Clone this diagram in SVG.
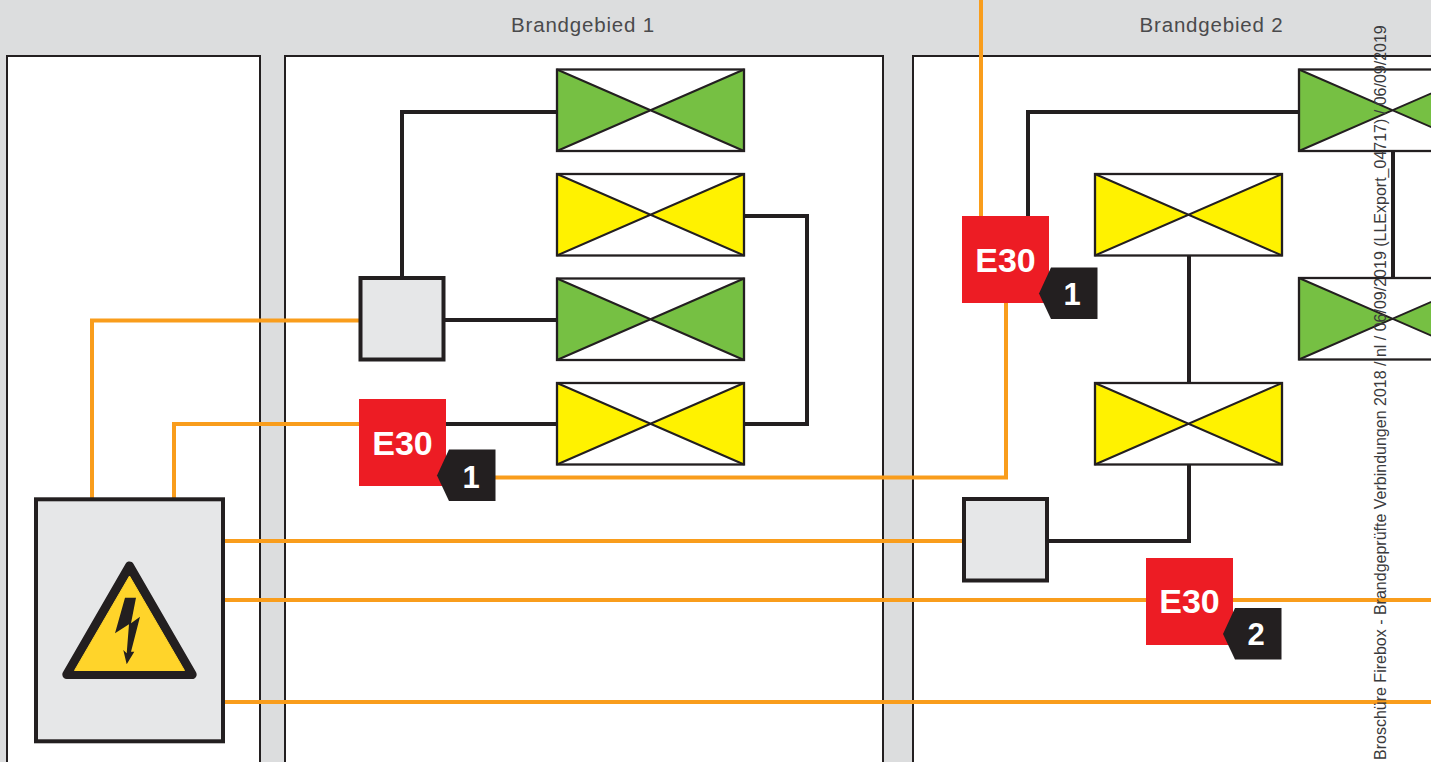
<svg xmlns="http://www.w3.org/2000/svg" width="1431" height="762" viewBox="0 0 1431 762">
<style>
.zone{fill:#fff;stroke:#231f20;stroke-width:2}
.hdr{font:20.5px "Liberation Sans",Arial,sans-serif;fill:#4a4a4c;text-anchor:middle;letter-spacing:.8px}
.o{fill:none;stroke:#f99d1c;stroke-width:4}
.k{fill:none;stroke:#231f20;stroke-width:4}
.box{fill:#e6e7e8;stroke:#231f20;stroke-width:4}
.dw{fill:#fff}
.x{fill:none;stroke:#231f20;stroke-width:2}
.g{fill:#76c043}
.y{fill:#fff200}
.red{fill:#ed1c24}
.e{font:bold 34px "Liberation Sans",Arial,sans-serif;fill:#fff;text-anchor:middle}
.tag{fill:#231f20}
.n{font:bold 31px "Liberation Sans",Arial,sans-serif;fill:#fff;text-anchor:middle}
.side{font:16px "Liberation Sans",Arial,sans-serif;fill:#3a3a3c}
</style>
<defs>
<g id="dg"><rect class="dw" x="0" y="0" width="187" height="81.5"/><path class="g" d="M0 0L94 41 0 81.500ZM187 0L94 41 187 81.500Z"/><path class="x" d="M0 0L187 81.500M0 81.500L187 0"/><rect x="0" y="0" width="187" height="81.5" fill="none" stroke="#231f20" stroke-width="2.3"/></g>
<g id="dy"><rect class="dw" x="0" y="0" width="187" height="81.5"/><path class="y" d="M0 0L94 41 0 81.500ZM187 0L94 41 187 81.500Z"/><path class="x" d="M0 0L187 81.500M0 81.500L187 0"/><rect x="0" y="0" width="187" height="81.5" fill="none" stroke="#231f20" stroke-width="2.3"/></g>
</defs>
<rect id="background" width="1431" height="762" fill="#dcddde"/>
<g id="zones">
<rect class="zone" x="7" y="56" width="253" height="720"/>
<rect class="zone" x="285" y="56" width="598" height="720"/>
<rect class="zone" x="913" y="56" width="530" height="720"/>
<text class="hdr" x="583" y="32">Brandgebied 1</text>
<text class="hdr" x="1211.500" y="32">Brandgebied 2</text>
</g>
<g id="connectors">
<path class="k" d="M402 278V112H557"/>
<path class="k" d="M444 320H557"/>
<path class="k" d="M744 216H807V424H744"/>
<path class="k" d="M445 424H557"/>
<path class="k" d="M1028 217V112H1299"/>
<path class="k" d="M1189 255V383"/>
<path class="k" d="M1393 151V278"/>
<path class="k" d="M1189 465V541H1047"/>
<path class="o" d="M92 499V320.500H360"/>
<path class="o" d="M174 499V424H360"/>
<path class="o" d="M981 0V217"/>
<path class="o" d="M495 477.500H1006V302"/>
<path class="o" d="M224 541H964"/>
<path class="o" d="M224 600H1147M1232 600H1431"/>
<path class="o" d="M224 702H1431"/>
</g>
<g id="damper-g1"><use href="#dg" x="557" y="69.500"/></g>
<g id="damper-y1"><use href="#dy" x="557" y="174"/></g>
<g id="damper-g2"><use href="#dg" x="557" y="278.500"/></g>
<g id="damper-y2"><use href="#dy" x="557" y="383"/></g>
<g id="damper-g3"><use href="#dg" x="1299" y="69.500"/></g>
<g id="damper-y3"><use href="#dy" x="1095" y="174"/></g>
<g id="damper-g4"><use href="#dg" x="1299" y="278"/></g>
<g id="damper-y4"><use href="#dy" x="1095" y="383"/></g>
<g id="box-1"><rect class="box" x="360.500" y="278" width="83" height="81.500"/></g>
<g id="box-2"><rect class="box" x="964" y="499" width="83" height="81.500"/></g>
<g id="panel">
<rect class="box" x="36" y="499.300" width="187" height="242"/>
<path d="M129.500 565.900L192.200 674.500H66.800Z" fill="#231f20" stroke="#231f20" stroke-width="9" stroke-linejoin="round"/>
<path d="M129.500 576L184.500 670.500H74.500Z" fill="#ffd42a" stroke="#ffd42a" stroke-width="1" stroke-linejoin="round"/>
<path d="M125 597.700H136L131 623.300 140 616.700 131 651.700 134.300 651.700 126.700 664.300 123.300 650 126.700 653.300 129 624.300 115 633.300Z" fill="#231f20"/>
</g>
<g id="e30-1">
<rect class="red" x="359" y="399" width="87" height="87"/>
<path class="tag" d="M449 449.500H495.500V501H449L437 475.500Z"/>
<text class="e" x="402.500" y="455">E30</text>
<text class="n" x="471" y="488">1</text>
</g>
<g id="e30-2">
<rect class="red" x="962" y="216" width="87" height="87"/>
<path class="tag" d="M1051 267.500H1097.500V319H1051L1039 293.500Z"/>
<text class="e" x="1005.500" y="272">E30</text>
<text class="n" x="1072" y="305">1</text>
</g>
<g id="e30-3">
<rect class="red" x="1146" y="558" width="87" height="87"/>
<path class="tag" d="M1235 608H1281.500V659.500H1235L1223 634Z"/>
<text class="e" x="1189.500" y="613">E30</text>
<text class="n" x="1256" y="645">2</text>
</g>
<text class="side" transform="translate(1386 760) rotate(-90)">Broschüre Firebox - Brandgeprüfte Verbindungen 2018 / nl / 06/09/2019 (LLExport_04717) / 06/09/2019</text>
</svg>
